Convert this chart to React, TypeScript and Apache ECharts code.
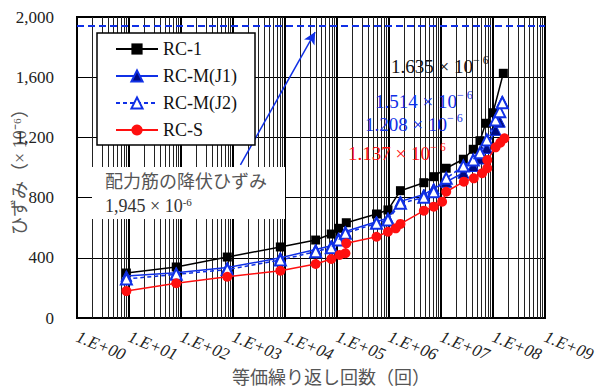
import React, { useEffect, useRef } from "react";
import * as echarts from "echarts";

const seriesNames = ["RC-1", "RC-M(J1)", "RC-M(J2)", "RC-S"];

const cyclesRC1 = [8.9, 81, 776, 8130, 38900, 77600, 107000, 151000, 575000, 955000, 1660000, 4680000, 7240000, 12600000, 26900000, 41700000, 56200000, 72400000, 100000000, 158000000];
const strainRC1 = [299, 339, 405, 472, 518, 558, 596, 633, 691, 718, 846, 899, 939, 995, 1055, 1121, 1178, 1294, 1364, 1626];

const cyclesRCM = [8.9, 81, 776, 8130, 38900, 77600, 107000, 145000, 575000, 955000, 1660000, 4680000, 7240000, 12600000, 26900000, 41700000, 56200000, 75900000, 112000000, 135000000, 151000000];
const strainRCMJ1 = [279, 300, 335, 400, 455, 480, 530, 575, 640, 665, 775, 820, 860, 905, 965, 1010, 1060, 1130, 1250, 1304, 1440];
const strainRCMJ2 = [259, 290, 322, 385, 441, 467, 518, 563, 629, 651, 762, 802, 839, 928, 1010, 1050, 1098, 1183, 1316, 1371, 1431];

const cyclesRCS = [8.9, 81, 776, 8130, 38900, 77600, 112000, 145000, 151000, 575000, 955000, 1350000, 1660000, 4680000, 7240000, 10500000, 12600000, 27500000, 42700000, 61700000, 77600000, 77600000, 112000000, 138000000, 166000000];
const strainRCS = [179, 231, 274, 314, 359, 392, 419, 430, 496, 540, 573, 596, 625, 713, 740, 773, 839, 906, 928, 962, 995, 1050, 1134, 1165, 1194];

const yieldStrain = 1945;
const arrowFrom = [1390, 1017];
const arrowTo = [38000, 1900];

const xMin = 1;
const xMax = 1e9;
const yMin = 0;
const yMax = 2000;
const yInterval = 400;

const serif = "'Liberation Serif', 'Times New Roman', 'Noto Sans CJK JP', serif";
const BLUE = "#1030e6";
const RED = "#ff1010";

function zip(xs: number[], ys: number[]) {
  return xs.map((x, i) => [x, ys[i]]);
}

export default function App() {
  const ref = useRef<HTMLDivElement>(null);
  useEffect(() => {
    document.body.style.margin = "0";
    const chart = echarts.init(ref.current!, null, { renderer: "svg" });

    const minorLines: any[] = [];
    for (let k = 0; k < 9; k++) {
      for (let m = 2; m <= 9; m++) minorLines.push({ xAxis: m * Math.pow(10, k) });
    }

    const sup = { fontSize: 12, fontFamily: serif, padding: [0, 0, 12, 0] };
    const note = (text: string, x: number, y: number, color: string) => ({
      type: "text",
      x,
      y,
      z: 51,
      style: {
        text: `{a|${text} × 10}{s|− 6}`,
        verticalAlign: "middle",
        rich: { a: { fontSize: 19, fontFamily: serif, fill: color }, s: { ...sup, fill: color } },
      },
    });

    const option: any = {
      animation: false,
      textStyle: { fontFamily: serif },
      grid: {
        left: 77,
        right: 63,
        top: 17,
        bottom: 69,
        containLabel: false,
        outerBoundsMode: "none",
        show: true,
        borderColor: "#000",
        borderWidth: 2,
        backgroundColor: "#fff",
      },
      legend: {
        data: seriesNames,
        orient: "vertical",
        left: 97,
        top: 33,
        itemWidth: 42,
        itemHeight: 14,
        itemGap: 9,
        padding: [7, 18, 6, 18],
        backgroundColor: "#fff",
        borderColor: "#000",
        borderWidth: 1.5,
        textStyle: { fontFamily: serif, fontSize: 18, color: "#111" },
        z: 60,
      },
      xAxis: {
        type: "log",
        logBase: 10,
        min: xMin,
        max: xMax,
        interval: 1,
        splitNumber: 9,
        name: "等価繰り返し回数（回）",
        nameLocation: "middle",
        nameMoveOverlap: false,
        nameGap: 51,
        nameTextStyle: { fontSize: 18, color: "#555", fontFamily: serif, padding: [0, 0, 0, 40] },
        axisLine: { show: true, lineStyle: { color: "#000", width: 2 } },
        axisTick: { show: false },
        axisLabel: {
          rotate: -22,
          margin: 18,
          fontSize: 17,
          fontStyle: "italic",
          fontFamily: serif,
          color: "#222",
          formatter: (v: number) => {
            const e = Math.round(Math.log10(v));
            return "1.E+" + (e < 10 ? "0" : "") + e;
          },
        },
        splitLine: { show: true, lineStyle: { color: "#000", width: 2 } },
      },
      yAxis: {
        type: "value",
        min: yMin,
        max: yMax,
        interval: yInterval,
        name: "ひずみ（× 10⁻⁶）",
        nameLocation: "middle",
        nameMoveOverlap: false,
        nameGap: 48,
        nameRotate: 90,
        nameTextStyle: { fontSize: 18, color: "#555", fontFamily: serif },
        axisLine: { show: true, lineStyle: { color: "#000", width: 2 } },
        axisTick: { show: false },
        axisLabel: {
          margin: 23,
          fontSize: 17,
          fontFamily: serif,
          color: "#222",
          formatter: (v: number) => v.toLocaleString("en-US"),
        },
        splitLine: { show: true, lineStyle: { color: "#000", width: 1 } },
      },
      series: [
        {
          type: "line",
          data: [],
          z: 1,
          silent: true,
          markLine: {
            silent: true,
            symbol: ["none", "none"],
            label: { show: false },
            lineStyle: { color: "#222", width: 1, type: "solid" },
            data: minorLines,
          },
        },
        {
          type: "line",
          data: [],
          z: 3,
          silent: true,
          markLine: {
            silent: true,
            symbol: ["none", "none"],
            label: { show: false },
            lineStyle: { color: BLUE, width: 2, type: [7, 4] },
            data: [{ yAxis: yieldStrain }],
          },
        },
        {
          name: "RC-1",
          type: "line",
          data: zip(cyclesRC1, strainRC1),
          symbol: "rect",
          symbolSize: 9,
          z: 5,
          itemStyle: { color: "#000" },
          lineStyle: { color: "#000", width: 1.5 },
        },
        {
          name: "RC-M(J1)",
          type: "line",
          data: zip(cyclesRCM, strainRCMJ1),
          symbol: "triangle",
          symbolSize: 11,
          z: 6,
          itemStyle: { color: "#000a80", borderColor: BLUE, borderWidth: 1 },
          lineStyle: { color: BLUE, width: 1.5 },
        },
        {
          name: "RC-M(J2)",
          type: "line",
          data: zip(cyclesRCM, strainRCMJ2),
          symbol: "triangle",
          symbolSize: 11,
          z: 7,
          itemStyle: { color: "#fff", borderColor: BLUE, borderWidth: 2 },
          lineStyle: { color: BLUE, width: 1.5, type: [4, 3] },
        },
        {
          name: "RC-S",
          type: "line",
          data: zip(cyclesRCS, strainRCS),
          symbol: "circle",
          symbolSize: 10,
          z: 8,
          itemStyle: { color: RED },
          lineStyle: { color: RED, width: 1.5 },
        },
        {
          type: "line",
          data: [],
          z: 9,
          silent: true,
          markLine: {
            silent: true,
            symbol: ["none", "arrow"],
            symbolSize: [9, 12],
            label: { show: false },
            lineStyle: { color: BLUE, width: 1.5, type: "solid" },
            data: [[{ coord: arrowFrom }, { coord: arrowTo }]],
          },
        },
      ],
      graphic: [
        { type: "rect", shape: { x: 92, y: 167, width: 193, height: 52 }, style: { fill: "#fff" }, z: 50 },
        {
          type: "text",
          x: 105,
          y: 182,
          z: 51,
          style: { text: "配力筋の降伏ひずみ", fontSize: 18, fontFamily: serif, fill: "#555", verticalAlign: "middle" },
        },
        {
          type: "text",
          x: 105,
          y: 206,
          z: 51,
          style: {
            text: "{a|1,945 × 10}{s|-6}",
            verticalAlign: "middle",
            rich: {
              a: { fontSize: 18, fontFamily: serif, fill: "#333" },
              s: { fontSize: 11, fontFamily: serif, fill: "#333", padding: [0, 0, 9, 0] },
            },
          },
        },
        note("1.635", 391, 66, "#111"),
        note("1.514", 375, 101, BLUE),
        note("1.208", 365, 124, BLUE),
        note("1.137", 348, 153, RED),
      ],
    };

    chart.setOption(option);
    return () => chart.dispose();
  }, []);
  return <div ref={ref} style={{ width: 608, height: 387 }} />;
}
